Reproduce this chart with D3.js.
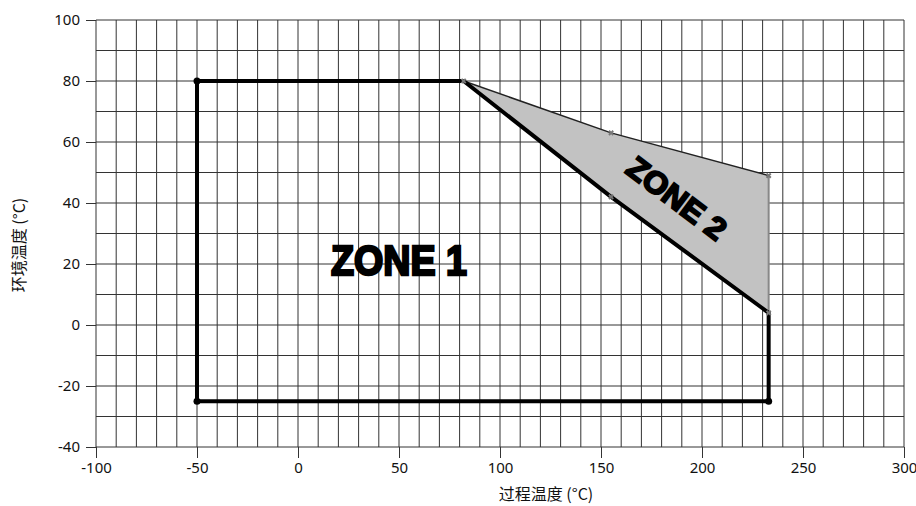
<!DOCTYPE html>
<html>
<head>
<meta charset="utf-8">
<title>Zone chart</title>
<script src="https://d3js.org/d3.v7.min.js"></script>
<style>
  body { margin: 0; background: #fff; }
  .tick-label { font-family: "Noto Sans", "Open Sans", sans-serif; font-size: 15px; fill: #111; }
  .axis-title { font-family: "Noto Sans CJK SC", "Noto Sans", sans-serif; font-size: 16px; fill: #111; }
  .zone-label { font-family: "Liberation Sans", Arial, sans-serif; font-weight: bold; fill: #000; stroke: #000; }
</style>
</head>
<body>
<div id="chart"></div>
<script>
// zone 1 outline (process temp, ambient temp)
var zone1X = [-50, 82, 155, 233, 233, -50, -50];
var zone1Y = [80, 80, 42, 4, -25, -25, 80];
// zone 2 shaded area
var zone2X = [82, 155, 233, 233, 155, 82];
var zone2Y = [80, 63, 49, 4, 42, 80];
// corner dots on zone 1
var dotX = [-50, -50, 233];
var dotY = [80, -25, -25];
// small x markers
var crossX = [82, 155, 233, 233, 155];
var crossY = [80, 63, 49, 4, 42];

var xTicks = [-100, -50, 0, 50, 100, 150, 200, 250, 300];
var yTicks = [-40, -20, 0, 20, 40, 60, 80, 100];
var xTitle = "过程温度 (°C)";
var yTitle = "环境温度 (°C)";

var width = 916, height = 506;
var margin = { top: 20, right: 12, bottom: 59, left: 96 };

var svg = d3.select("#chart").append("svg")
  .attr("width", width)
  .attr("height", height);

var x = d3.scaleLinear().domain([-100, 300]).range([margin.left, width - margin.right]);
var y = d3.scaleLinear().domain([-40, 100]).range([height - margin.bottom, margin.top]);

// grid every 10 units
var grid = svg.append("g").attr("stroke", "#333").attr("stroke-width", 1);
grid.selectAll(".vx").data(d3.range(-100, 301, 10)).enter().append("line")
  .attr("x1", function(d) { return x(d); }).attr("x2", function(d) { return x(d); })
  .attr("y1", y(100)).attr("y2", y(-40));
grid.selectAll(".hy").data(d3.range(-40, 101, 10)).enter().append("line")
  .attr("x1", x(-100)).attr("x2", x(300))
  .attr("y1", function(d) { return y(d); }).attr("y2", function(d) { return y(d); });

// axes (ticks only, the grid gives the lines); plain hyphen for negatives
var fmt = function(d) { return String(d); };
var xAxis = svg.append("g")
  .attr("transform", "translate(0," + y(-40) + ")")
  .call(d3.axisBottom(x).tickValues(xTicks).tickFormat(fmt).tickSize(11).tickPadding(4));
var yAxis = svg.append("g")
  .attr("transform", "translate(" + x(-100) + ",0)")
  .call(d3.axisLeft(y).tickValues(yTicks).tickFormat(fmt).tickSize(10).tickPadding(6));
[xAxis, yAxis].forEach(function(a) {
  a.select(".domain").remove();
  a.selectAll(".tick line").attr("stroke", "#333");
  a.selectAll(".tick text").attr("class", "tick-label").attr("fill", null);
});

var line = d3.line().x(function(d) { return x(d[0]); }).y(function(d) { return y(d[1]); });

// zone 2 fill
var zone2 = zone2X.map(function(v, i) { return [v, zone2Y[i]]; });
svg.append("path")
  .attr("d", line(zone2) + "Z")
  .attr("fill", "#c2c2c2")
  .attr("stroke", "none");
svg.append("path")
  .attr("d", line(zone2.slice(0, 3)))
  .attr("fill", "none").attr("stroke", "#222").attr("stroke-width", 1.5);
svg.append("path")
  .attr("d", line(zone2.slice(2, 4)))
  .attr("fill", "none").attr("stroke", "#888").attr("stroke-width", 2);

// zone 1 outline
var zone1 = zone1X.map(function(v, i) { return [v, zone1Y[i]]; });
svg.append("path")
  .attr("d", line(zone1))
  .attr("fill", "none").attr("stroke", "#000").attr("stroke-width", 4)
  .attr("stroke-linejoin", "round");

svg.selectAll(".dot").data(dotX).enter().append("circle")
  .attr("cx", function(d) { return x(d); })
  .attr("cy", function(d, i) { return y(dotY[i]); })
  .attr("r", 3.5).attr("fill", "#000");

svg.selectAll(".cross").data(crossX).enter().append("path")
  .attr("transform", function(d, i) { return "translate(" + x(d) + "," + y(crossY[i]) + ") rotate(45)"; })
  .attr("d", d3.symbol().type(d3.symbolCross).size(20))
  .attr("fill", "#777");

// zone labels
svg.append("text").attr("class", "zone-label")
  .attr("x", 399).attr("y", 275)
  .attr("text-anchor", "middle")
  .attr("font-size", 42).attr("stroke-width", 2.5)
  .attr("textLength", 136).attr("lengthAdjust", "spacingAndGlyphs")
  .text("ZONE 1");

svg.append("text").attr("class", "zone-label")
  .attr("transform", "translate(677,198) rotate(37)")
  .attr("text-anchor", "middle").attr("dy", "0.36em")
  .attr("font-size", 31).attr("stroke-width", 2)
  .attr("textLength", 116).attr("lengthAdjust", "spacingAndGlyphs")
  .text("ZONE 2");

// axis titles
svg.append("text").attr("class", "axis-title")
  .attr("x", 546).attr("y", 500)
  .attr("text-anchor", "middle")
  .text(xTitle);
svg.append("text").attr("class", "axis-title")
  .attr("transform", "translate(25,245) rotate(-90)")
  .attr("text-anchor", "middle")
  .text(yTitle);
</script>
</body>
</html>
